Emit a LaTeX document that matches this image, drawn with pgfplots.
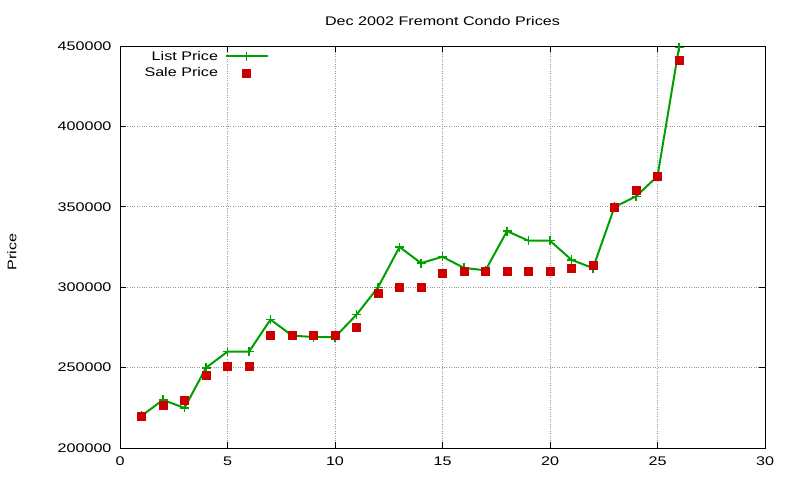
\documentclass[border=0pt]{standalone}
\usepackage{pgfplots}
\pgfplotsset{compat=1.18}
\usepackage{fontspec}
\setmainfont{Liberation Sans}[FakeStretch=1.29]
\definecolor{lgreen}{RGB}{0,160,0}
\definecolor{sred}{RGB}{204,0,0}
\begin{document}
\begin{tikzpicture}
\fill[white] (0pt,0pt) rectangle (800pt,480pt);
\useasboundingbox (0pt,0pt) rectangle (800pt,480pt);
\begin{axis}[
  at={(120pt,32pt)}, anchor=south west,
  scale only axis, width=645pt, height=402pt,
  xmin=0, xmax=30, ymin=200000, ymax=450000,
  xtick={0,5,...,30}, ytick={200000,250000,...,450000},
  scaled y ticks=false,
  yticklabel={\pgfmathprintnumber[fixed,precision=0,set thousands separator={},assume math mode=true]{\tick}},
  xticklabel={\pgfmathprintnumber[fixed,precision=0,assume math mode=true]{\tick}},
  yticklabel style={xshift=-5pt},
  xticklabel style={yshift=-5pt},
  font=\fontsize{12.5}{14}\selectfont,
  tick align=inside, major tick length=6pt,
  tick style={black, line width=0.8pt},
  axis line style={black, line width=0.8pt},
  grid=major, grid style={gray!80, dotted, line width=0.8pt},
  title={Dec 2002 Fremont Condo Prices},
  title style={at={(0.5,1)}, anchor=base, yshift=15pt, inner sep=0pt},
  ylabel={Price},
  ylabel style={at={(axis description cs:-0.1674,0.4876)}, anchor=center},
  legend plot pos=right,
  legend cell align=left,
  legend style={draw=none, fill=none, at={(0.236,0.998)}, anchor=north east,
    row sep=2pt, font=\fontsize{12.5}{14}\selectfont},
]
\addplot[lgreen, line width=2pt, mark=+, mark size=4.5pt, mark options={line width=1.5pt},
  legend image code/.code={\draw[lgreen, line width=2pt] (0pt,0pt) -- (42pt,0pt);
    \draw[lgreen, line width=1.5pt] (20.5pt,-4.5pt) -- (20.5pt,4.5pt);}]
coordinates {
(1,220000) (2,229900) (3,224900) (4,249900) (5,259900) (6,259900) (7,279900)
(8,269900) (9,269000) (10,269000) (11,282900) (12,299900) (13,325000) (14,315000)
(15,318900) (16,312000) (17,310500) (18,334900) (19,328900) (20,328900) (21,317000)
(22,311900) (23,349900) (24,356500) (25,369000) (26,449000)
};
\addlegendentry{\makebox[72pt][r]{List Price\hspace{5pt}}}
\addplot[only marks, mark=square*, mark size=4pt, color=sred,
  legend image code/.code={\path[draw=none,fill=none] (0pt,0pt) -- (42pt,0pt); \fill[sred] (16.5pt,-4pt) rectangle (24.5pt,4pt);}]
coordinates {
(1,219900) (2,226500) (3,229500) (4,245000) (5,251000) (6,251000) (7,269900)
(8,269900) (9,269900) (10,269900) (11,275000) (12,296000) (13,300000) (14,300000)
(15,308500) (16,310000) (17,310000) (18,310000) (19,310000) (20,310000) (21,312000)
(22,313900) (23,350000) (24,360500) (25,369000) (26,441000)
};
\addlegendentry{\makebox[72pt][r]{Sale Price\hspace{5pt}}}
\end{axis}
\end{tikzpicture}
\end{document}
